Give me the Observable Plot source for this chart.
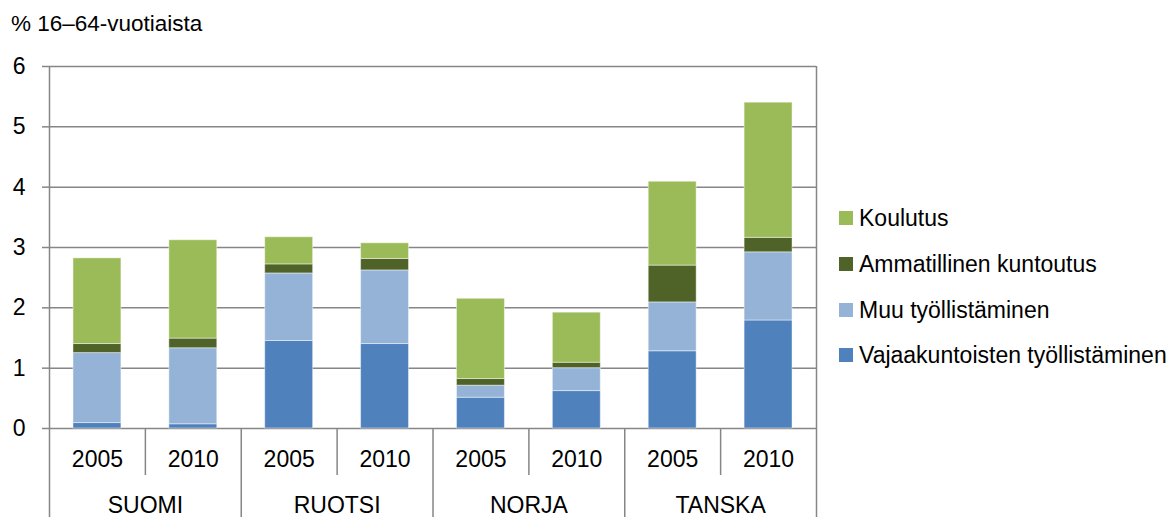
<!DOCTYPE html>
<html><head><meta charset="utf-8">
<script src="https://cdn.jsdelivr.net/npm/d3@7"></script>
<script src="https://cdn.jsdelivr.net/npm/@observablehq/plot@0.6"></script>
<style>
body{margin:0;background:#fff;font-family:"Liberation Sans",Arial,sans-serif;color:#000}
#wrap{position:relative;width:1168px;height:517px;overflow:hidden}
#title{position:absolute;left:11px;top:12px;font-size:22.5px;line-height:23px;white-space:nowrap}
#chart{position:absolute;left:0;top:0}
#legend{position:absolute;left:839px;top:0;font-size:23px}
.item{position:absolute;left:0;white-space:nowrap;height:23px;line-height:23px}
.sw{position:absolute;left:0;top:4px;width:14px;height:14px}
.lab{position:absolute;left:20px;top:0}
</style></head><body>
<div id="wrap"><div id="chart"></div><div id="title">% 16–64-vuotiaista</div><div id="legend"></div></div>
<script>
const countries = ["SUOMI", "RUOTSI", "NORJA", "TANSKA"];
const years = ["2005", "2010"];
const series = ["Vajaakuntoisten työllistäminen", "Muu työllistäminen", "Ammatillinen kuntoutus", "Koulutus"];
const colors = ["#4F81BD", "#95B3D7", "#4F6228", "#9BBB59"];
// values per slot: SUOMI 2005, SUOMI 2010, RUOTSI 2005, RUOTSI 2010, NORJA 2005, NORJA 2010, TANSKA 2005, TANSKA 2010
const vajaa = [0.09, 0.07, 1.45, 1.40, 0.51, 0.62, 1.28, 1.79];
const muu   = [1.16, 1.26, 1.12, 1.22, 0.20, 0.38, 0.81, 1.13];
const amm   = [0.15, 0.16, 0.15, 0.19, 0.11, 0.09, 0.61, 0.24];
const koul  = [1.42, 1.63, 0.45, 0.26, 1.33, 0.83, 1.39, 2.24];
const yTicks = [0, 1, 2, 3, 4, 5, 6];

const seriesValues = [vajaa, muu, amm, koul];
const slots = [];
countries.forEach((c, ci) => years.forEach((yr, yi) => slots.push({i: ci * years.length + yi, country: c, year: yr})));
const rows = [];
slots.forEach(s => {
  let base = 0;
  series.forEach((name, k) => {
    const v = seriesValues[k][s.i];
    rows.push({i: s.i, series: name, y1: base, y2: base + v});
    base += v;
  });
});
const groups = countries.map((c, ci) => ({country: c, mid: ci * years.length + years.length / 2}));
const yearSeps = slots.filter(s => s.i % years.length !== 0).map(s => s.i);
const countrySeps = d3.range(years.length, slots.length, years.length);
const borders = [0, slots.length];

const gray = "#868686";
const chart = Plot.plot({
  width: 1168, height: 517,
  marginLeft: 49, marginRight: 352, marginTop: 66, marginBottom: 89,
  style: {fontFamily: '"Liberation Sans", Arial, sans-serif', fontSize: "23px", color: "#000", background: "#fff"},
  x: {type: "linear", domain: [0, slots.length], axis: null},
  y: {domain: [0, 6], axis: null},
  color: {domain: series, range: colors},
  marks: [
    Plot.ruleY(yTicks, {stroke: gray, strokeWidth: 1.5}),
    Plot.axisY({ticks: yTicks, tickSize: 7, tickPadding: 17, stroke: gray, strokeWidth: 1.5, fontSize: 23, fill: "#000", tickFormat: d => String(d)}),
    Plot.rect(rows, {x1: d => d.i + 0.25, x2: d => d.i + 0.75, y1: "y1", y2: "y2", fill: "series", stroke: "#fff", strokeOpacity: 0.45, strokeWidth: 1}),
    Plot.ruleX(borders, {stroke: gray, strokeWidth: 1.5, insetBottom: -89}),
    Plot.ruleX(countrySeps, {y1: 0, y2: 0, stroke: gray, strokeWidth: 1.5, insetBottom: -89}),
    Plot.ruleX(yearSeps, {y1: 0, y2: 0, stroke: gray, strokeWidth: 1.5, insetBottom: -47}),
    Plot.text(slots, {x: d => d.i + 0.5, frameAnchor: "bottom", dy: 38, text: "year", fontSize: 23, fill: "#000"}),
    Plot.text(groups, {x: "mid", frameAnchor: "bottom", dy: 84, text: "country", fontSize: 23, fill: "#000"})
  ]
});
document.getElementById("chart").appendChild(chart);

const legend = document.getElementById("legend");
const legendTops = [207, 253, 299, 344];
series.slice().reverse().forEach((name, k) => {
  const it = document.createElement("div");
  it.className = "item";
  it.style.top = legendTops[k] + "px";
  const sw = document.createElement("div");
  sw.className = "sw";
  sw.style.background = colors[series.indexOf(name)];
  const lab = document.createElement("div");
  lab.className = "lab";
  lab.textContent = name;
  it.appendChild(sw); it.appendChild(lab);
  legend.appendChild(it);
});
</script>
</body></html>
